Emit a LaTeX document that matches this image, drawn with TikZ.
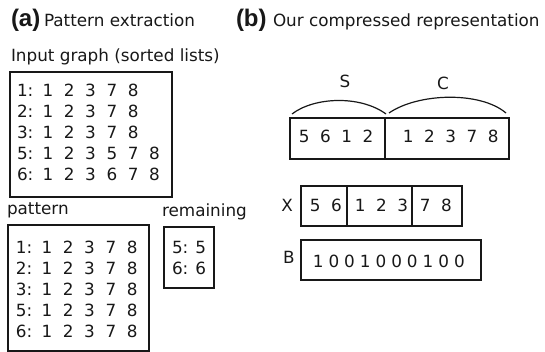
\documentclass[tikz,border=0pt]{standalone}
\usepackage{fontspec}
\setmainfont{DejaVu Sans}
\newfontfamily\headfont{Liberation Sans}
\definecolor{ink}{RGB}{24,24,24}
% fixed-width digit cells for the adjacency lists
\newcommand\cell[1]{\makebox[21.3pt]{#1}}
\newcommand\bit[1]{\makebox[15.7pt]{#1}}
\begin{document}
\begin{tikzpicture}[x=1pt,y=-1pt,
  every node/.style={inner sep=0pt, outer sep=0pt, text=ink},
  txt/.style={font=\fontsize{16.8}{20}\selectfont, anchor=base west},
  ctxt/.style={font=\fontsize{16.8}{20}\selectfont, anchor=base},
  head/.style={font=\headfont\bfseries\fontsize{24}{28}\selectfont, anchor=base west},
  frame/.style={draw=ink, line width=1.3pt, rectangle},
  brace/.style={draw=ink, line width=1.2pt}]
\useasboundingbox (0,0) rectangle (545,352);

% ---- panel (a) ----
\node[head] (la) at (11,27) {(a)};
\node[txt] (ta) at (44,27) {Pattern extraction};
\node[txt] (tin) at (11,62) {Input graph (sorted lists)};
\node[frame, minimum width=162, minimum height=125] (inbox) at (91,134.5) {};
\node[txt] (in1) at (17,97)  {1:\hspace{4pt}\cell1\cell2\cell3\cell7\cell8};
\node[txt] (in2) at (17,118) {2:\hspace{4pt}\cell1\cell2\cell3\cell7\cell8};
\node[txt] (in3) at (17,139) {3:\hspace{4pt}\cell1\cell2\cell3\cell7\cell8};
\node[txt] (in4) at (17,160) {5:\hspace{4pt}\cell1\cell2\cell3\cell5\cell7\cell8};
\node[txt] (in5) at (17,181) {6:\hspace{4pt}\cell1\cell2\cell3\cell6\cell7\cell8};

\node[txt] (tpat) at (7,215) {pattern};
\node[frame, minimum width=141, minimum height=126] (patbox) at (78.5,288) {};
\node[txt] (pt1) at (16,253) {1:\hspace{4pt}\cell1\cell2\cell3\cell7\cell8};
\node[txt] (pt2) at (16,274) {2:\hspace{4pt}\cell1\cell2\cell3\cell7\cell8};
\node[txt] (pt3) at (16,295) {3:\hspace{4pt}\cell1\cell2\cell3\cell7\cell8};
\node[txt] (pt4) at (16,316) {5:\hspace{4pt}\cell1\cell2\cell3\cell7\cell8};
\node[txt] (pt5) at (16,337) {6:\hspace{4pt}\cell1\cell2\cell3\cell7\cell8};

\node[txt] (trem) at (162,217) {remaining};
\node[frame, minimum width=50, minimum height=61] (rembox) at (189,257.5) {};
\node[txt] (rm1) at (172,253) {5: 5};
\node[txt] (rm2) at (172,274) {6: 6};

% ---- panel (b) ----
\node[head] (lb) at (236,27) {(b)};
\node[txt] (tb) at (273,27) {Our compressed representation};

\node[frame, minimum width=95, minimum height=41] (sbox) at (337.5,138.5) {};
\node[frame, minimum width=124, minimum height=41] (cbox) at (447,138.5) {};
\node[txt] (sv) at (293.5,143) {\cell5\cell6\cell1\cell2};
\node[txt] (cv) at (397.5,143) {\cell1\cell2\cell3\cell7\cell8};

\node[ctxt] (sl) at (345,88) {S};
\node[ctxt] (cl) at (443,90) {C};
\coordinate (s0) at (292,114);
\coordinate (s1) at (386,114);
\coordinate (c0) at (389,113);
\coordinate (c1) at (506,113);
\draw[brace] (s0) .. controls (314,97) and (360,95) .. (s1);
\draw[brace] (c0) .. controls (418,93) and (480,91) .. (c1);

\node[ctxt] (xl) at (287,212) {X};
\node[frame, minimum width=46, minimum height=40] (x1) at (324,206) {};
\node[frame, minimum width=65, minimum height=40] (x2) at (379.5,206) {};
\node[frame, minimum width=50, minimum height=40] (x3) at (437,206) {};
\node[txt] (xv1) at (304.5,212) {\cell5\cell6};
\node[txt] (xv2) at (349.5,212) {\cell1\cell2\cell3};
\node[txt] (xv3) at (414.5,212) {\cell7\cell8};

\node[ctxt] (bl) at (289,263) {B};
\node[frame, minimum width=180, minimum height=40] (bbox) at (391,260) {};
\node[txt] (bv) at (310.3,267) {\bit1\bit0\bit0\bit1\bit0\bit0\bit0\bit1\bit0\bit0};
\end{tikzpicture}
\end{document}
